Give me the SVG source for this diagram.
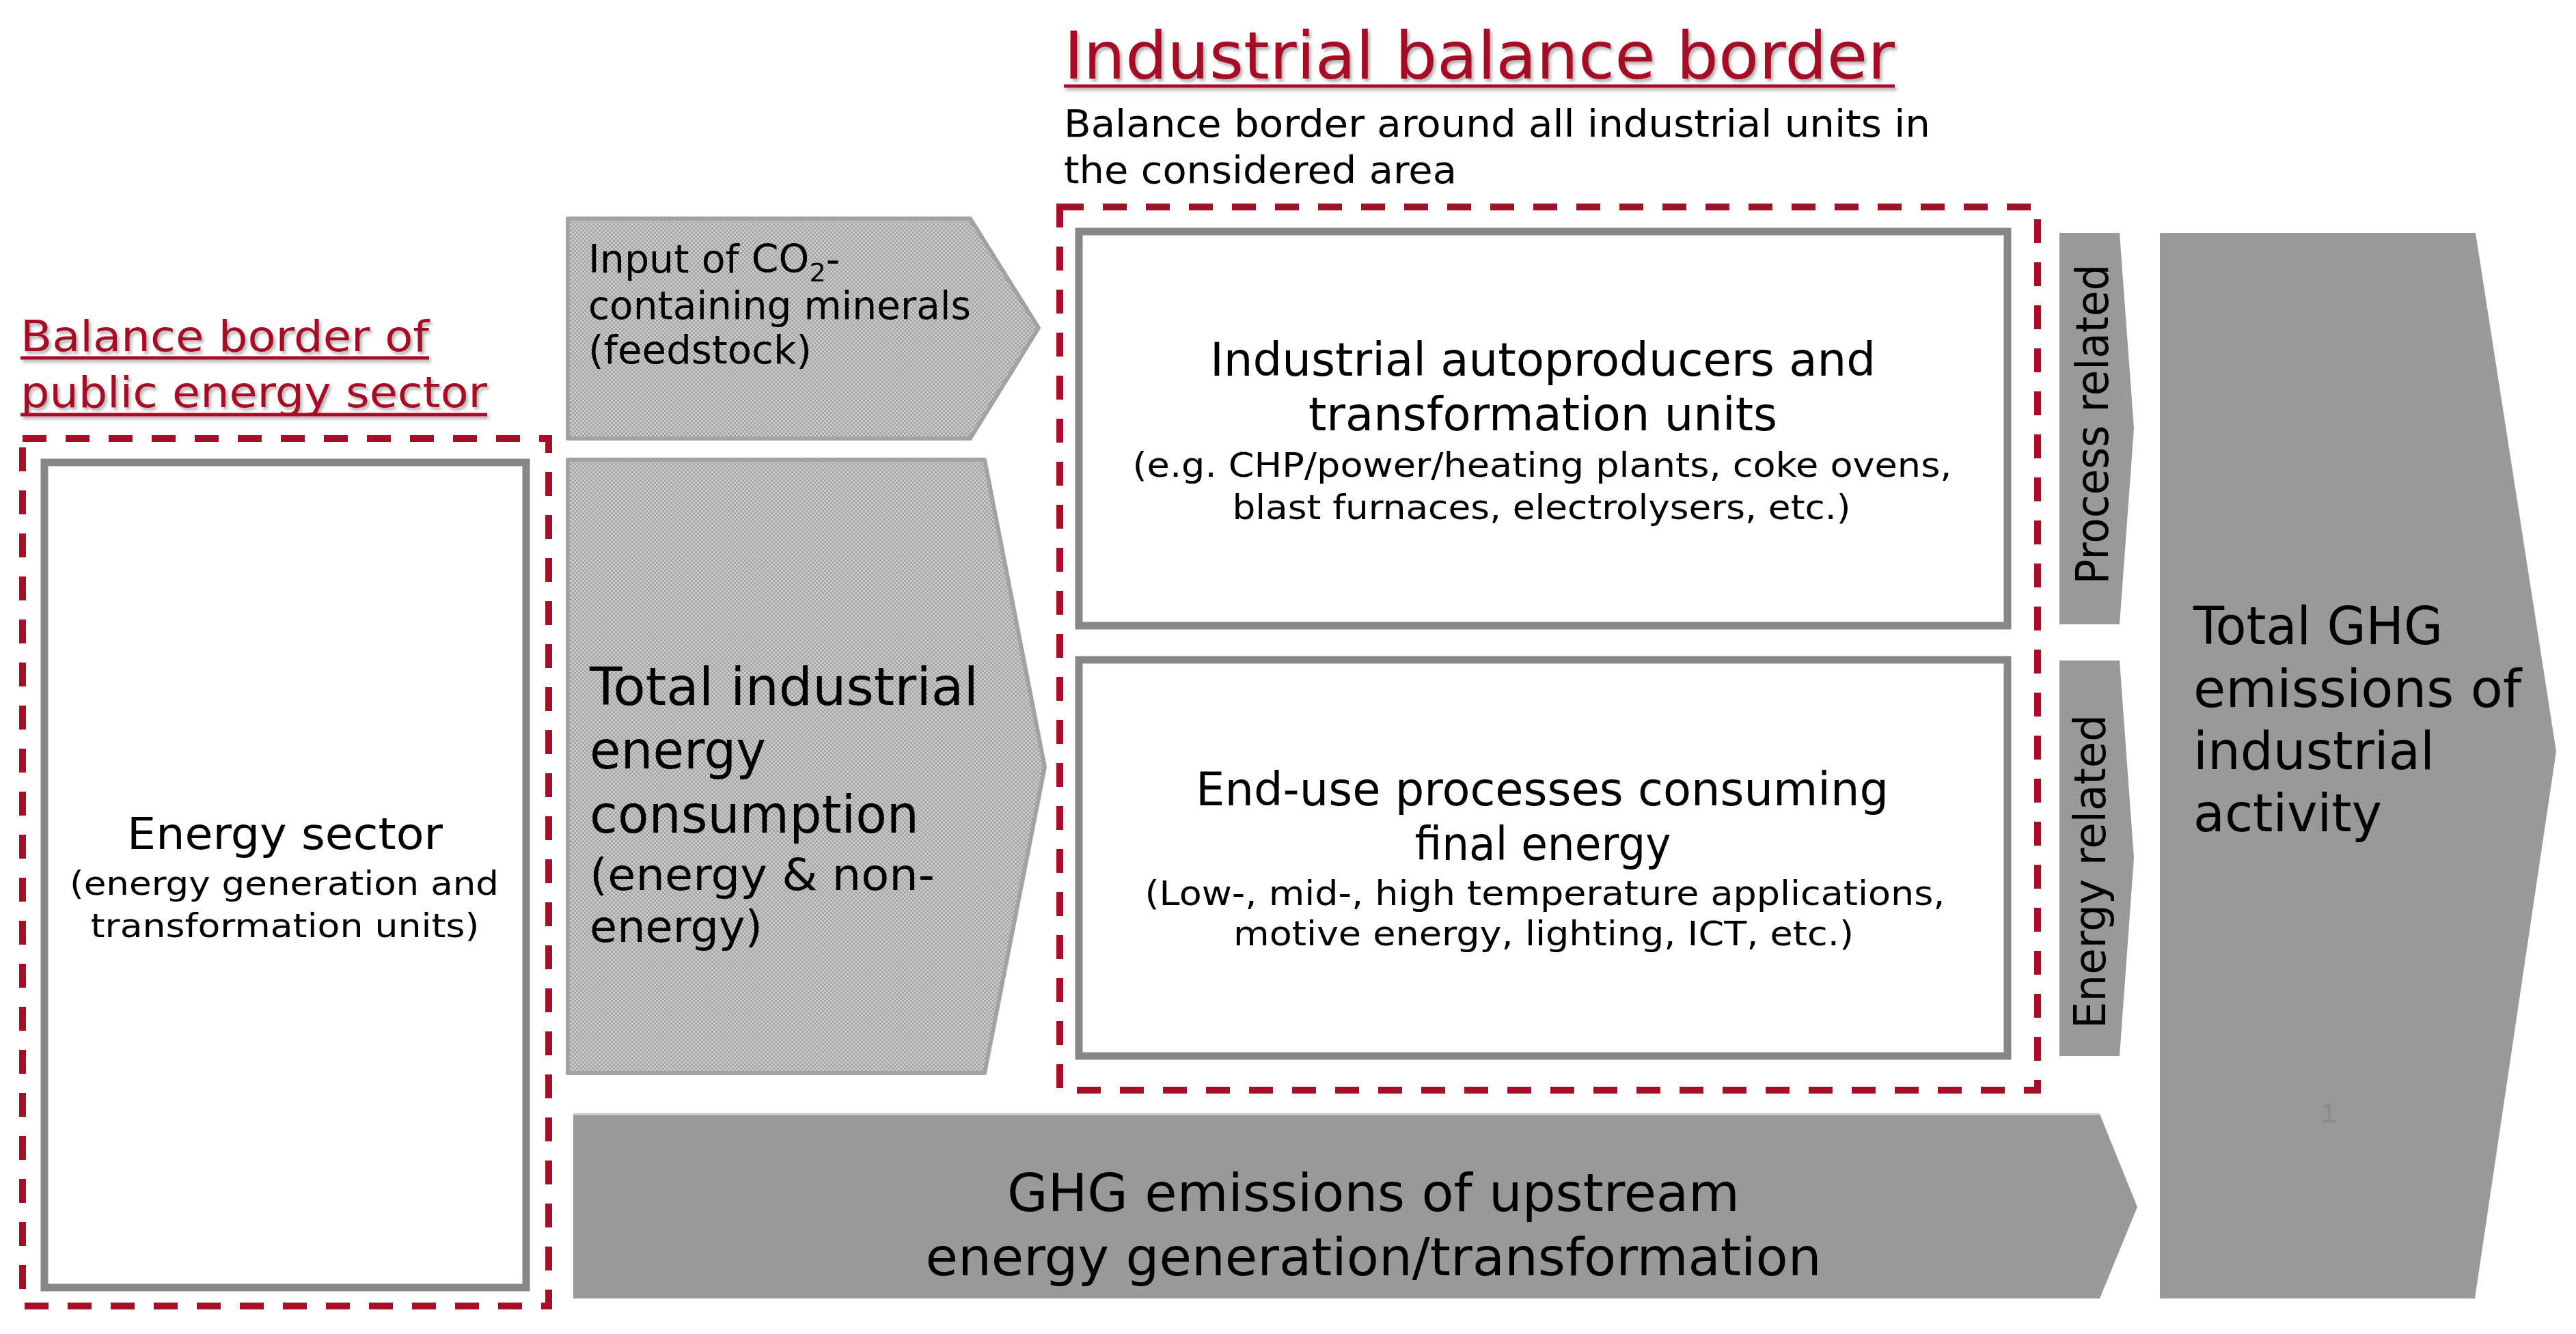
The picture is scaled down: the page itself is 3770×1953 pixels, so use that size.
<svg xmlns="http://www.w3.org/2000/svg" width="3770" height="1953" viewBox="0 0 3770 1953">
  <defs>
    <pattern id="dots" width="6" height="6" patternUnits="userSpaceOnUse">
      <rect width="6" height="6" fill="#cacaca"/>
      <rect width="3" height="3" fill="#a5a5a5"/>
      <rect x="3" y="3" width="3" height="3" fill="#a5a5a5"/>
    </pattern>
    <filter id="shadow" x="-5%" y="-20%" width="110%" height="150%">
      <feDropShadow dx="3" dy="4" stdDeviation="2" flood-color="#000" flood-opacity="0.3"/>
    </filter>
    <style>
      text { font-family: "DejaVu Sans", Verdana, sans-serif; fill: #000; }
      .red { fill: #A50F27; }
      .uline { stroke: #A50F27; stroke-width: 5; }
      .dash { fill: none; stroke: #A50F27; stroke-width: 10; stroke-dasharray: 35 28; }
      .box { fill: #fff; stroke: #878787; stroke-width: 11; }
      .hatch { fill: url(#dots); stroke: #a2a2a2; stroke-width: 6; stroke-linejoin: round; }
      .solid { fill: #999999; }
      .mid { text-anchor: middle; }
    </style>
  </defs>
  <rect width="3770" height="1953" fill="#fff"/>

  <!-- Titles -->
  <g id="industrial-border-title" filter="url(#shadow)">
    <text class="red" x="1557" y="115" font-size="96" textLength="1216" lengthAdjust="spacingAndGlyphs">Industrial balance border</text>
    <line class="uline" x1="1557" y1="126" x2="2773" y2="126"/>
  </g>
  <g id="industrial-border-subtitle">
    <text x="1557" y="200" font-size="56" textLength="1268" lengthAdjust="spacingAndGlyphs">Balance border around all industrial units in</text>
    <text x="1557" y="268" font-size="56" textLength="575" lengthAdjust="spacingAndGlyphs">the considered area</text>
  </g>
  <g id="public-border-title" filter="url(#shadow)">
    <text class="red" x="30" y="514" font-size="62" textLength="598" lengthAdjust="spacingAndGlyphs">Balance border of</text>
    <line class="uline" x1="30" y1="524" x2="628" y2="524"/>
    <text class="red" x="30" y="596" font-size="62" textLength="683" lengthAdjust="spacingAndGlyphs">public energy sector</text>
    <line class="uline" x1="30" y1="607" x2="713" y2="607"/>
  </g>

  <!-- Balance borders -->
  <g id="public-border">
    <rect class="dash" x="33" y="642" width="770" height="1270"/>
  </g>
  <g id="industrial-border">
    <rect class="dash" x="1551" y="303" width="1431" height="1293"/>
  </g>

  <!-- Energy sector -->
  <g id="energy-sector">
    <rect class="box" x="65" y="677" width="705" height="1208"/>
    <text class="mid" x="417" y="1243" font-size="64" textLength="462" lengthAdjust="spacingAndGlyphs">Energy sector</text>
    <text class="mid" x="416" y="1310" font-size="48" textLength="628" lengthAdjust="spacingAndGlyphs">(energy generation and</text>
    <text class="mid" x="417" y="1372" font-size="48" textLength="569" lengthAdjust="spacingAndGlyphs">transformation units)</text>
  </g>

  <!-- Input arrows -->
  <g id="input-co2">
    <polygon class="hatch" points="831,320 1420,320 1520,480 1420,642 831,642"/>
    <text x="861" y="399" font-size="57">Input of CO<tspan font-size="38" dy="13">2</tspan><tspan dy="-13">-</tspan></text>
    <text x="861" y="467" font-size="57" textLength="560" lengthAdjust="spacingAndGlyphs">containing minerals</text>
    <text x="861" y="532" font-size="57" textLength="327" lengthAdjust="spacingAndGlyphs">(feedstock)</text>
  </g>
  <g id="total-industrial-energy">
    <polygon class="hatch" points="831,673 1441,673 1529,1123 1441,1571 831,1571"/>
    <text x="863" y="1032" font-size="76" textLength="569" lengthAdjust="spacingAndGlyphs">Total industrial</text>
    <text x="863" y="1125" font-size="76" textLength="258" lengthAdjust="spacingAndGlyphs">energy</text>
    <text x="863" y="1219" font-size="76" textLength="482" lengthAdjust="spacingAndGlyphs">consumption</text>
    <text x="863" y="1303" font-size="64" textLength="505" lengthAdjust="spacingAndGlyphs">(energy &amp; non-</text>
    <text x="863" y="1379" font-size="64" textLength="253" lengthAdjust="spacingAndGlyphs">energy)</text>
  </g>

  <!-- Industrial units -->
  <g id="autoproducers">
    <rect class="box" x="1579" y="339" width="1359" height="577"/>
    <text class="mid" x="2258" y="550" font-size="67" textLength="974" lengthAdjust="spacingAndGlyphs">Industrial autoproducers and</text>
    <text class="mid" x="2258" y="630" font-size="67" textLength="686" lengthAdjust="spacingAndGlyphs">transformation units</text>
    <text class="mid" x="2257" y="698" font-size="50" textLength="1199" lengthAdjust="spacingAndGlyphs">(e.g. CHP/power/heating plants, coke ovens,</text>
    <text class="mid" x="2256" y="760" font-size="50" textLength="905" lengthAdjust="spacingAndGlyphs">blast furnaces, electrolysers, etc.)</text>
  </g>
  <g id="end-use">
    <rect class="box" x="1579" y="966" width="1359" height="580"/>
    <text class="mid" x="2257" y="1179" font-size="67" textLength="1014" lengthAdjust="spacingAndGlyphs">End-use processes consuming</text>
    <text class="mid" x="2258" y="1259" font-size="67" textLength="375" lengthAdjust="spacingAndGlyphs">final energy</text>
    <text class="mid" x="2261" y="1325" font-size="50" textLength="1171" lengthAdjust="spacingAndGlyphs">(Low-, mid-, high temperature applications,</text>
    <text class="mid" x="2259" y="1384" font-size="50" textLength="908" lengthAdjust="spacingAndGlyphs">motive energy, lighting, ICT, etc.)</text>
  </g>

  <!-- Emission flows -->
  <g id="connectors">
    <g id="process-related">
      <polygon class="solid" points="3014,341 3102,341 3123,627 3102,914 3014,914"/>
      <text class="mid" transform="translate(3085,621) rotate(-90)" font-size="66" textLength="469" lengthAdjust="spacingAndGlyphs">Process related</text>
    </g>
    <g id="energy-related">
      <polygon class="solid" points="3014,967 3102,967 3123,1256 3102,1546 3014,1546"/>
      <text class="mid" transform="translate(3081,1276) rotate(-90)" font-size="64" textLength="460" lengthAdjust="spacingAndGlyphs">Energy related</text>
    </g>
    <g id="upstream-emissions">
      <polygon class="solid" points="839,1631 3073,1631 3128,1767 3073,1901 839,1901"/>
      <line x1="839" y1="1631" x2="3073" y2="1631" stroke="#c9c9c9" stroke-width="3"/>
      <text class="mid" x="2010" y="1773" font-size="76" textLength="1072" lengthAdjust="spacingAndGlyphs">GHG emissions of upstream</text>
      <text class="mid" x="2010" y="1867" font-size="76" textLength="1311" lengthAdjust="spacingAndGlyphs">energy generation/transformation</text>
    </g>
  </g>

  <g id="total-ghg">
    <polygon class="solid" points="3161,341 3623,341 3741,1100 3622,1901 3161,1901"/>
    <text x="3210" y="943" font-size="77" textLength="365" lengthAdjust="spacingAndGlyphs">Total GHG</text>
    <text x="3210" y="1035" font-size="77" textLength="480" lengthAdjust="spacingAndGlyphs">emissions of</text>
    <text x="3210" y="1126" font-size="77" textLength="353" lengthAdjust="spacingAndGlyphs">industrial</text>
    <text x="3210" y="1217" font-size="77" textLength="276" lengthAdjust="spacingAndGlyphs">activity</text>
    <text x="3408" y="1643" font-size="40" style="fill:#8a8a8a; font-family:'Liberation Sans', sans-serif;" text-anchor="middle">1</text>
  </g>
</svg>
